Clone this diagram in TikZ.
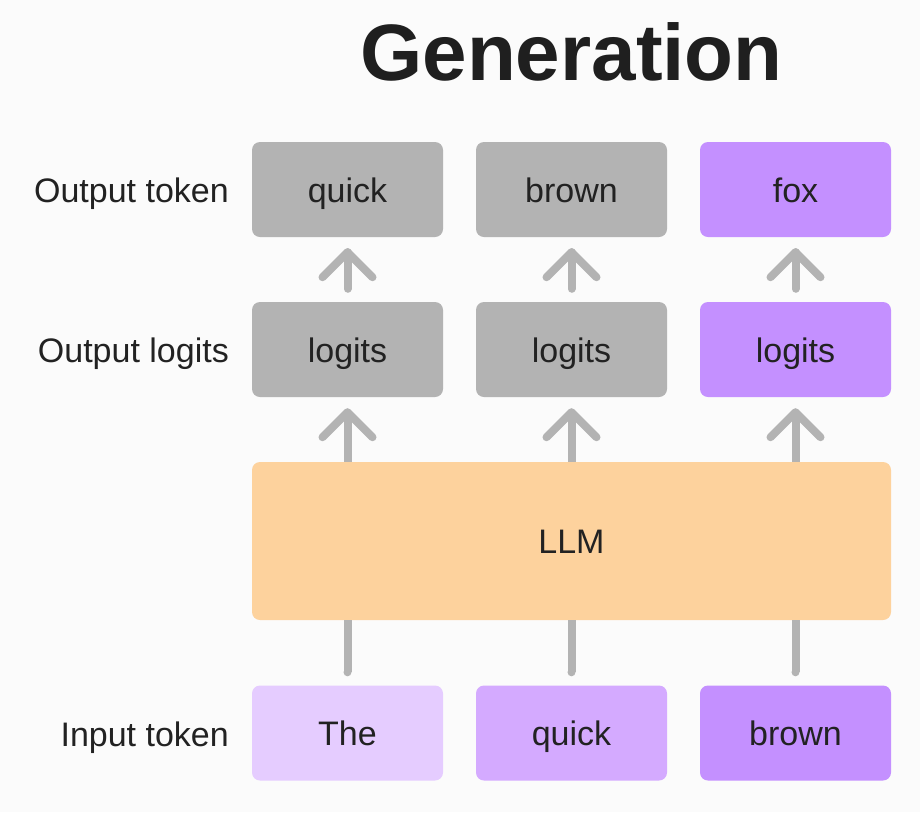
\documentclass[tikz,border=0pt]{standalone}
\usepackage{fontspec}
\setmainfont{Liberation Sans}
\usetikzlibrary{calc}
\definecolor{bg}{HTML}{FBFBFB}
\definecolor{grayb}{HTML}{B3B3B3}
\definecolor{purp}{HTML}{C490FF}
\definecolor{purpl}{HTML}{E5CCFF}
\definecolor{purpm}{HTML}{D4AAFF}
\definecolor{llmc}{HTML}{FDD29D}
\definecolor{txt}{HTML}{222222}
\begin{document}
\begin{tikzpicture}[x=1pt,y=-1pt,
  tok/.style={rectangle, rounded corners=8pt, minimum width=191pt, minimum height=95pt, inner sep=0pt, text height=25pt, text depth=0pt, text=txt, font=\fontsize{34}{38}\selectfont},
  lab/.style={anchor=base east, inner sep=0pt, text=txt, font=\fontsize{34}{38}\selectfont},
  conn/.style={draw=grayb, line width=8pt, line cap=round, line join=round}]
\fill[bg] (0,0) rectangle (920,812);
\useasboundingbox (0,0) rectangle (920,812);
\node[inner sep=0pt, anchor=base, text=black!88, font=\fontsize{80}{90}\selectfont\bfseries] (title) at (571.5,80) {Generation};
% output tokens
\node[tok, fill=grayb] (o1) at (347.5,189.5) {quick};
\node[tok, fill=grayb] (o2) at (571.5,189.5) {brown};
\node[tok, fill=purp] (o3) at (795.5,189.5) {fox};
% logits
\node[tok, fill=grayb] (l1) at (347.5,349.5) {logits};
\node[tok, fill=grayb] (l2) at (571.5,349.5) {logits};
\node[tok, fill=purp] (l3) at (795.5,349.5) {logits};
% LLM
\node[tok, fill=llmc, minimum width=639pt, minimum height=158pt] (llm) at (571.5,541) {LLM};
% inputs
\node[tok, fill=purpl] (i1) at (347.5,733) {The};
\node[tok, fill=purpm] (i2) at (571.5,733) {quick};
\node[tok, fill=purp] (i3) at (795.5,733) {brown};
% labels
\node[lab] (lo) at (229,202) {Output token};
\node[lab] (ll) at (229,362) {Output logits};
\node[lab] (li) at (229,746) {Input token};
% arrows logits -> output
\foreach \a/\b in {l1/o1,l2/o2,l3/o3}{
  \draw[conn] ($(\a.north)+(0,-13)$) -- ($(\b.south)+(0,15)$);
  \draw[conn] ($(\b.south)+(-25,40)$) -- ($(\b.south)+(0,15)$) -- ($(\b.south)+(25,40)$);
}
% arrows LLM -> logits
\foreach \x/\b in {-224/l1,0/l2,224/l3}{
  \draw[conn, line cap=butt] ($(llm.north)+(\x,0)$) -- ($(\b.south)+(0,15)$);
  \draw[conn] ($(\b.south)+(-25,40)$) -- ($(\b.south)+(0,15)$) -- ($(\b.south)+(25,40)$);
}
% inputs -> LLM
\foreach \x/\a in {-224/i1,0/i2,224/i3}{
  \draw[conn, line cap=butt] ($(llm.south)+(\x,0)$) -- ($(\a.north)+(0,-13)$);
  \fill[grayb] ($(\a.north)+(0,-13)$) circle (4pt);
}
\end{tikzpicture}
\end{document}
